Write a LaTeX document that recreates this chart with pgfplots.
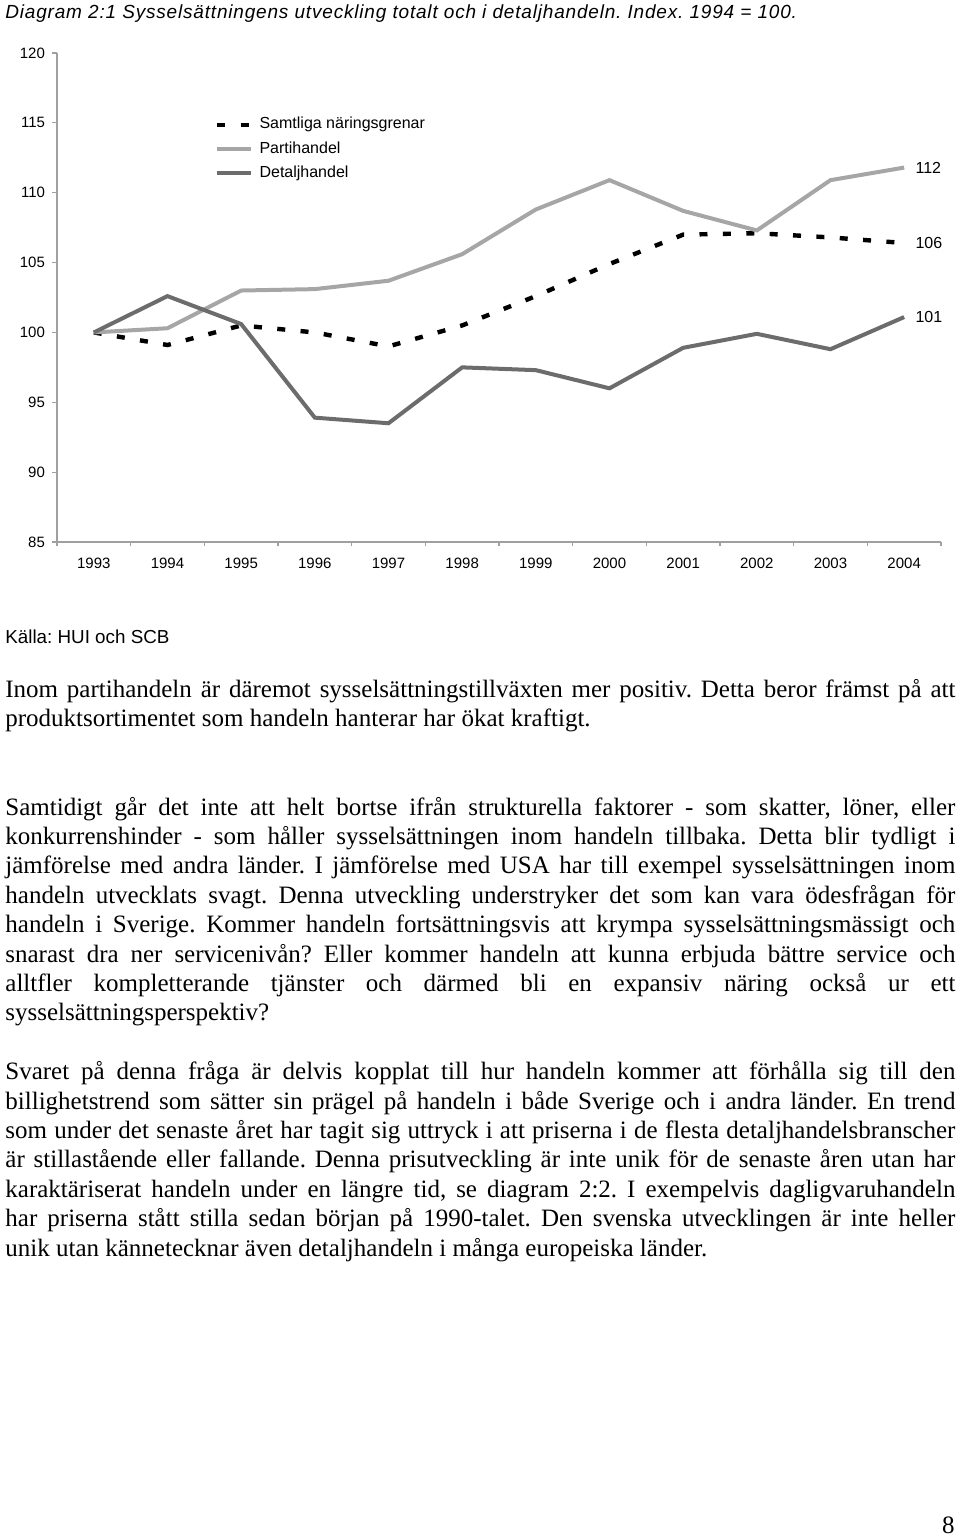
\documentclass[border=0pt]{standalone}
\usepackage{pgfplots}
\pgfplotsset{compat=1.18}
\usepackage{fontspec}
\setmainfont{Liberation Serif}
\setsansfont{Liberation Sans}
\newfontfamily\arial{Liberation Sans}
\newfontfamily\titlefont[LetterSpace=4.3]{Liberation Sans}
\frenchspacing
\definecolor{parti}{RGB}{166,166,166}
\definecolor{detalj}{RGB}{108,108,108}
\definecolor{axisgray}{RGB}{160,160,160}
\newcommand{\body}{\rmfamily\fontsize{12.5}{14.7}\selectfont}
\newcommand{\jl}[2]{\node[anchor=base west,inner sep=0pt,font=\body] at (2.5pt,-#1pt) {\makebox[475pt][s]{#2}};}
\newcommand{\lastl}[2]{\node[anchor=base west,inner sep=0pt,font=\body] at (2.5pt,-#1pt) {#2};}
\begin{document}
\begin{tikzpicture}
\path[use as bounding box] (0,0) rectangle (480pt,-768.5pt);
\node[anchor=base west,inner sep=0pt,font=\titlefont\itshape\fontsize{9.5}{11}\selectfont] at (2.5pt,-9.2pt)
  {Diagram 2:1 Sysselsättningens utveckling totalt och i detaljhandeln. Index. 1994 = 100.};
\begin{axis}[
  at={(28.5pt,-271pt)}, anchor=south west,
  scale only axis, width=442pt, height=244.5pt,
  xmin=-0.5, xmax=11.5, ymin=85, ymax=120,
  axis x line*=bottom, axis y line*=left,
  axis line style={draw=axisgray, line width=0.6pt, -},
  xtick={0,...,11},
  xticklabels={1993,1994,1995,1996,1997,1998,1999,2000,2001,2002,2003,2004},
  minor xtick={-0.5,0.5,...,11.5},
  major x tick style={draw=none},
  minor x tick style={draw=axisgray, line width=0.6pt},
  y tick style={draw=axisgray, line width=0.6pt},
  tick align=outside,
  major tick length=2.5pt, minor tick length=2pt,
  ytick={85,90,...,120},
  tick label style={font=\arial\fontsize{7.5}{9}\selectfont},
  xticklabel style={yshift=-2pt},
  /pgf/number format/assume math mode=true,
  legend style={at={(axis cs:1.645,115.57)}, anchor=north west, draw=none, fill=none,
    inner sep=0pt, outer sep=0pt, row sep=2.25pt, column sep=2pt,
    nodes={inner sep=1pt, text height=6pt, text depth=1.8pt},
    font=\arial\fontsize{8}{9.6}\selectfont},
  legend cell align=left,
  clip=false,
]
\addplot[black, line width=2.2pt, dash pattern=on 4pt off 7.7pt] coordinates {
 (0,100) (1,99.1) (2,100.5) (3,100.0) (4,99.0) (5,100.5) (6,102.6) (7,104.9) (8,107.0) (9,107.1) (10,106.8) (11,106.4)};
\addlegendentry{Samtliga näringsgrenar}
\addplot[parti, line width=2pt] coordinates {
 (0,100) (1,100.3) (2,103.0) (3,103.1) (4,103.7) (5,105.6) (6,108.8) (7,110.9) (8,108.7) (9,107.3) (10,110.9) (11,111.8)};
\addlegendentry{Partihandel}
\addplot[detalj, line width=2pt] coordinates {
 (0,100) (1,102.6) (2,100.6) (3,93.9) (4,93.5) (5,97.5) (6,97.3) (7,96.0) (8,98.9) (9,99.9) (10,98.8) (11,101.1)};
\addlegendentry{Detaljhandel}
\node[anchor=west,inner sep=0pt,xshift=5.5pt,font=\arial\fontsize{8}{9.6}\selectfont] at (axis cs:11,111.8) {112};
\node[anchor=west,inner sep=0pt,xshift=5.5pt,font=\arial\fontsize{8}{9.6}\selectfont] at (axis cs:11,106.4) {106};
\node[anchor=west,inner sep=0pt,xshift=5.5pt,font=\arial\fontsize{8}{9.6}\selectfont] at (axis cs:11,101.1) {101};
\end{axis}
\node[anchor=base west,inner sep=0pt,font=\arial\fontsize{9.4}{11}\selectfont] at (2.5pt,-321.5pt) {Källa: HUI och SCB};
\jl{348.7}{Inom partihandeln är däremot sysselsättningstillväxten mer positiv. Detta beror främst på att}
\lastl{363.4}{produktsortimentet som handeln hanterar har ökat kraftigt.}
\jl{407.5}{Samtidigt går det inte att helt bortse ifrån strukturella faktorer - som skatter, löner, eller}
\jl{422.2}{konkurrenshinder - som håller sysselsättningen inom handeln tillbaka. Detta blir tydligt i}
\jl{436.9}{jämförelse med andra länder. I jämförelse med USA har till exempel sysselsättningen inom}
\jl{451.6}{handeln utvecklats svagt. Denna utveckling understryker det som kan vara ödesfrågan för}
\jl{466.3}{handeln i Sverige. Kommer handeln fortsättningsvis att krympa sysselsättningsmässigt och}
\jl{481.0}{snarast dra ner servicenivån? Eller kommer handeln att kunna erbjuda bättre service och}
\jl{495.7}{alltfler kompletterande tjänster och därmed bli en expansiv näring också ur ett}
\lastl{510.4}{sysselsättningsperspektiv?}
\jl{539.8}{Svaret på denna fråga är delvis kopplat till hur handeln kommer att förhålla sig till den}
\jl{554.5}{billighetstrend som sätter sin prägel på handeln i både Sverige och i andra länder. En trend}
\jl{569.2}{som under det senaste året har tagit sig uttryck i att priserna i de flesta detaljhandelsbranscher}
\jl{583.9}{är stillastående eller fallande. Denna prisutveckling är inte unik för de senaste åren utan har}
\jl{598.6}{karaktäriserat handeln under en längre tid, se diagram 2:2. I exempelvis dagligvaruhandeln}
\jl{613.3}{har priserna stått stilla sedan början på 1990-talet. Den svenska utvecklingen är inte heller}
\lastl{628.0}{unik utan kännetecknar även detaljhandeln i många europeiska länder.}
\node[anchor=base east,inner sep=0pt,font=\body] at (477.5pt,-766.75pt) {8};
\end{tikzpicture}
\end{document}
